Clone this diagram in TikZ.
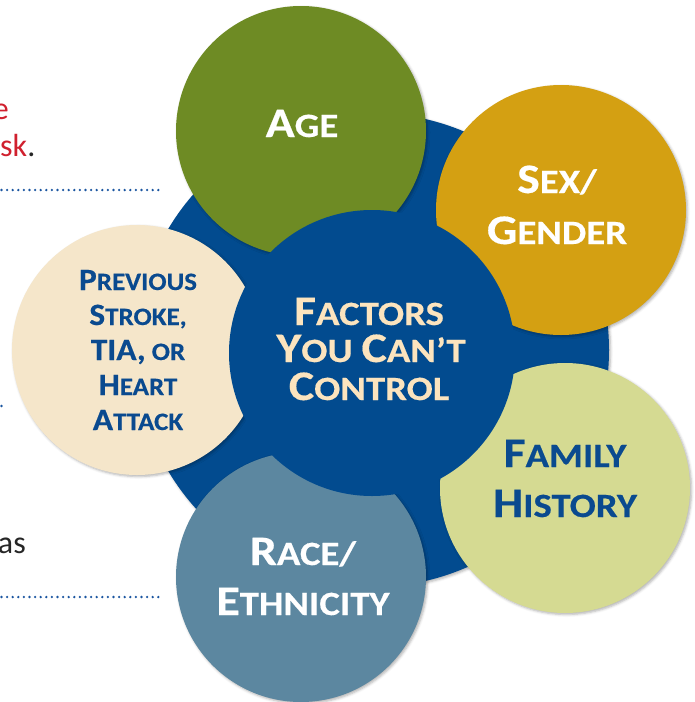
\documentclass[tikz,border=0pt]{standalone}
\usepackage{fontspec}
\setmainfont{Carlito}
\newfontfamily\lblfontA{Carlito}[FakeStretch=1.14, FakeBold=0.4]
\newfontfamily\lblfontB{Carlito}[FakeStretch=1.08, FakeBold=0.4]
\usetikzlibrary{shadows.blur}
\definecolor{bgblue}{HTML}{024B8F}
\definecolor{agegreen}{HTML}{6E8B24}
\definecolor{sexgold}{HTML}{D4A012}
\definecolor{famgreen}{HTML}{D5DA92}
\definecolor{raceblue}{HTML}{5C87A0}
\definecolor{prevbeige}{HTML}{F5E6CA}
\definecolor{darktxt}{HTML}{0A4A8F}
\definecolor{creamtxt}{HTML}{FCE4BE}
\definecolor{fragred}{HTML}{D0202E}
\definecolor{fraggray}{HTML}{262626}
\definecolor{dotblue}{HTML}{1A55A0}
\newcommand\Sc[2]{{\fontsize{\bigsz}{\bigsz}\selectfont#1}{\fontsize{\smsz}{\smsz}\selectfont#2}}
\tikzset{
  disc/.style={circle, inner sep=0pt, minimum size=#1},
  softshadow/.style={blur shadow={shadow xshift=1.5pt, shadow yshift=-1.5pt, shadow blur radius=2.5pt, shadow opacity=30}},
  outer/.style={disc=250pt, softshadow},
  lbl/.style={anchor=base, inner sep=0pt},
  lblbig/.style={lbl, font=\lblfontA\def\bigsz{42}\def\smsz{34}\fontsize{34}{34}\selectfont\bfseries},
  lblsmall/.style={lbl, font=\lblfontB\def\bigsz{31}\def\smsz{25}\fontsize{25}{25}\selectfont\bfseries},
  frag/.style={inner sep=0pt, font=\fontsize{32}{32}\selectfont},
  dotline/.style={draw=dotblue, line width=2.6pt, line cap=round, dash pattern=on 0pt off 5.6pt}
}
\begin{document}
\begin{tikzpicture}[x=1pt,y=-1pt]
\useasboundingbox (0,0) rectangle (695,702);
% page fragments on the left
\node[frag, anchor=base east, text=fragred] (fe) at (9,119) {e};
\node[frag, anchor=base west] (fsk) at (0,156) {\textcolor{fragred}{sk}\textcolor{fraggray}{.}};
\node[frag, anchor=base east, text=fraggray] (fas) at (26,553) {as};
\coordinate (d1a) at (1.5,190); \coordinate (d1b) at (160,190);
\coordinate (d2a) at (1.5,406); \coordinate (d2b) at (7,406);
\coordinate (d3a) at (1.5,597); \coordinate (d3b) at (160,597);
\draw[dotline] (d1a) -- (d1b);
\draw[dotline] (d2a) -- (d2b);
\draw[dotline] (d3a) -- (d3b);
% background disc
\node[disc=474pt, fill=bgblue, softshadow] (bg) at (372,350) {};
% outer circles
\node[outer, fill=agegreen] (age) at (301,131) {};
\node[outer, fill=sexgold] (sex) at (561,210) {};
\node[outer, fill=famgreen] (fam) at (565,488) {};
\node[outer, fill=raceblue] (race) at (301,577) {};
\node[outer, fill=prevbeige] (prev) at (137,350) {};
% centre circle
\node[disc=286pt, fill=bgblue] (ctr) at (372,353) {};
% labels
\node[lblbig, text=creamtxt] (c1) at (369,325) {\Sc{F}{ACTORS}};
\node[lblbig, text=creamtxt] (c2) at (371,362) {\Sc{Y}{OU} \Sc{C}{AN’T}};
\node[lblbig, text=creamtxt] (c3) at (369,400) {\Sc{C}{ONTROL}};
\node[lblbig, text=white] (a1) at (302,137) {\Sc{A}{GE}};
\node[lblbig, text=white] (s1) at (557,193) {\Sc{S}{EX/}};
\node[lblbig, text=white] (s2) at (557,244) {\Sc{G}{ENDER}};
\node[lblbig, text=darktxt] (f1) at (565,467) {\Sc{F}{AMILY}};
\node[lblbig, text=darktxt] (f2) at (565,517) {\Sc{H}{ISTORY}};
\node[lblbig, text=white] (r1) at (303,565) {\Sc{R}{ACE/}};
\node[lblbig, text=white] (r2) at (303,615) {\Sc{E}{THNICITY}};
\node[lblsmall, text=darktxt] (p1) at (138,290) {\Sc{P}{REVIOUS}};
\node[lblsmall, text=darktxt] (p2) at (138,325) {\Sc{S}{TROKE,}};
\node[lblsmall, text=darktxt] (p3) at (138,360) {\Sc{TIA,}{} \Sc{}{OR}};
\node[lblsmall, text=darktxt] (p4) at (138,395) {\Sc{H}{EART}};
\node[lblsmall, text=darktxt] (p5) at (138,430) {\Sc{A}{TTACK}};
\end{tikzpicture}
\end{document}
